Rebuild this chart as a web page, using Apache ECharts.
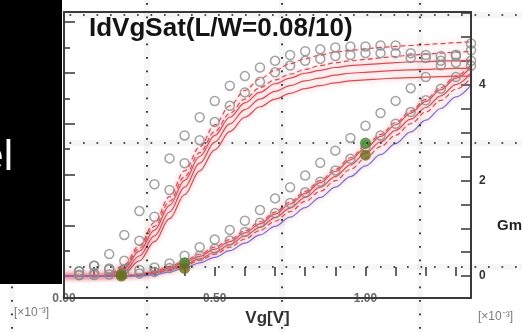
<!DOCTYPE html>
<html><head><meta charset="utf-8">
<script src="https://cdn.jsdelivr.net/npm/echarts@6/dist/echarts.min.js"></script>
<style>html,body{margin:0;padding:0;background:#fff}#c{width:522px;height:332px}</style>
</head><body><div id="c"></div>
<script>
// ---- data ----
const vg = [0,0.05,0.1,0.15,0.2,0.25,0.3,0.35,0.4,0.45,0.5,0.55,0.6,0.65,0.7,0.75,0.8,0.85,0.9,0.95,1.0,1.05,1.1,1.15,1.2,1.25,1.3,1.35];
// simulated Id (left axis)
const idSimA = [0,0,0,0,0,0.03,0.08,0.16,0.27,0.39,0.53,0.68,0.85,1.03,1.22,1.42,1.63,1.84,2.06,2.29,2.52,2.75,2.98,3.21,3.44,3.67,3.9,4.12];
const idSimB = [0,0,0,0,0,0.02,0.06,0.13,0.23,0.34,0.47,0.62,0.79,0.96,1.15,1.34,1.55,1.75,1.96,2.19,2.42,2.64,2.87,3.09,3.32,3.55,3.77,4.0];
const idSimC = [0,0,0,0,0,0.01,0.05,0.11,0.2,0.31,0.43,0.57,0.73,0.9,1.08,1.27,1.47,1.67,1.88,2.1,2.32,2.55,2.77,3.0,3.23,3.46,3.68,3.9];
const idSimD = [0,0,0,0,0.01,0.04,0.1,0.19,0.3,0.43,0.57,0.72,0.89,1.07,1.26,1.46,1.67,1.88,2.1,2.33,2.56,2.79,3.02,3.25,3.48,3.71,3.94,4.16];
const idSimBlue = [0,0,0,0,0,0,0.03,0.08,0.16,0.26,0.37,0.5,0.65,0.81,0.98,1.16,1.35,1.55,1.75,1.96,2.17,2.39,2.61,2.84,3.07,3.3,3.53,3.76];
// simulated Gm (right axis)
const gmSim1 = [0,0,0,0.02,0.16,0.52,0.96,1.48,2.0,2.5,2.94,3.32,3.62,3.84,4.02,4.14,4.24,4.3,4.36,4.4,4.42,4.44,4.46,4.48,4.48,4.5,4.5,4.52];
const gmSim2 = [0,0,0,0,0.1,0.42,0.84,1.34,1.86,2.36,2.8,3.18,3.48,3.7,3.86,3.98,4.08,4.14,4.2,4.24,4.26,4.28,4.3,4.31,4.32,4.33,4.34,4.34];
const gmSim3 = [0,0,0,0,0.06,0.32,0.72,1.2,1.7,2.2,2.64,3.02,3.32,3.54,3.7,3.82,3.92,3.98,4.04,4.08,4.1,4.12,4.14,4.15,4.16,4.17,4.18,4.18];
const gmSimDash1 = [0,0,0,0.04,0.24,0.64,1.12,1.66,2.2,2.7,3.16,3.56,3.88,4.12,4.3,4.44,4.54,4.62,4.68,4.72,4.75,4.78,4.8,4.82,4.84,4.86,4.88,4.9];
const gmSimDash2 = [0,0,0,0.02,0.2,0.58,1.04,1.56,2.08,2.58,3.02,3.4,3.7,3.94,4.1,4.22,4.32,4.4,4.46,4.5,4.53,4.56,4.59,4.62,4.64,4.66,4.68,4.7];
// measured (open circles)
const idMeasOuter = [null,0.09,0.2,0.15,0.13,0.12,0.17,0.25,0.4,0.57,0.72,0.91,1.09,1.3,1.53,1.75,1.98,2.23,2.47,2.72,2.96,3.21,3.45,3.7,3.92,4.15,4.36,4.58];
const idMeasInner = [null,0.02,0.02,0.03,0.04,0.05,0.08,0.16,0.27,0.4,0.54,0.7,0.87,1.05,1.24,1.44,1.65,1.86,2.08,2.31,2.54,2.77,3.0,3.23,3.46,3.69,3.92,4.14];
const gmMeasOuter = [null,0.1,0.22,0.46,0.86,1.36,1.92,2.46,2.94,3.32,3.66,3.98,4.18,4.36,4.5,4.62,4.7,4.74,4.78,4.8,4.8,4.82,4.82,4.66,4.62,4.6,4.6,4.72];
const gmMeasInner = [null,0.02,0.06,0.14,0.32,0.74,1.24,1.8,2.36,2.84,3.22,3.56,3.84,4.06,4.26,4.4,4.5,4.54,4.6,4.62,4.66,4.66,4.66,4.56,4.56,4.5,4.46,4.5];
// target points (filled green)
const targetVg = [0.19,0.4,1.0];
const targetUpper = [0.03,0.26,2.62];
const targetLower = [0,0.15,2.38];
// texts
const titleText = 'IdVgSat(L/W=0.08/10)';
const xName = 'Vg[V]';
const rightName = 'Gm[S]';
const unitText = '[×10⁻³]';
const boxText = 'el';

const pairs = arr => vg.map((x, i) => [x, arr[i]]).filter(p => p[1] !== null);
const FONT = '"Liberation Sans", Arial, sans-serif';

const lineRed = '#dc4a52';
function simLine(arr, axis, dashed, color) {
  return {
    type: 'line', data: pairs(arr), yAxisIndex: axis, xAxisIndex: 0,
    showSymbol: false, smooth: 0.35, smoothMonotone: 'x', clip: false, z: 3,
    lineStyle: { color: color || lineRed, width: 1.2, type: dashed ? [5, 3] : 'solid',
      shadowBlur: 5, shadowColor: 'rgba(235,110,120,0.75)' }
  };
}
function meas(arr, axis) {
  return {
    type: 'scatter', data: pairs(arr), yAxisIndex: axis, xAxisIndex: 0, clip: false, z: 4,
    symbol: 'circle', symbolSize: 9,
    itemStyle: { color: 'rgba(255,255,255,0)', borderColor: '#8c8c8c', borderWidth: 1.5 }
  };
}

const dotStyle = { stroke: '#1a1a1a', lineWidth: 1.7, lineDash: [1.7, 11.8] };
const haze = { stroke: 'rgba(0,0,0,0.035)', lineWidth: 6 };
const vLines = [12, 147, 282, 420], hLines = [15, 143, 267];
const graphics = [];
vLines.forEach(x => {
  graphics.push({ type: 'line', z: 49, silent: true, shape: { x1: x, y1: 0, x2: x, y2: 332 }, style: haze });
  graphics.push({ type: 'line', z: 50, silent: true, shape: { x1: x, y1: 3, x2: x, y2: 332 }, style: dotStyle });
});
hLines.forEach(y => {
  graphics.push({ type: 'line', z: 49, silent: true, shape: { x1: 0, y1: y, x2: 522, y2: y }, style: haze });
  graphics.push({ type: 'line', z: 50, silent: true, shape: { x1: 2, y1: y, x2: 522, y2: y }, style: dotStyle });
});
graphics.push({ type: 'rect', z: 60, silent: true, shape: { x: 64, y: 12, width: 407, height: 286 },
  style: { fill: 'none', stroke: '#3a3a3a', lineWidth: 2 } });
graphics.push({ type: 'rect', z: 200, silent: true, shape: { x: 0, y: 0, width: 62, height: 284 }, style: { fill: '#000' } });
graphics.push({ type: 'text', z: 210, silent: true, x: 13, y: 158,
  style: { text: boxText, fill: '#fff', font: '42px ' + FONT, align: 'right', verticalAlign: 'middle' } });
graphics.push({ type: 'text', z: 60, silent: true, x: 497, y: 226,
  style: { text: rightName, fill: '#222', font: 'bold 15px ' + FONT, align: 'left', verticalAlign: 'middle' } });
graphics.push({ type: 'text', z: 60, silent: true, x: 14, y: 313,
  style: { text: unitText, fill: '#7a7a7a', font: '12px ' + FONT, align: 'left', verticalAlign: 'middle' } });
graphics.push({ type: 'text', z: 60, silent: true, x: 478, y: 317,
  style: { text: unitText, fill: '#7a7a7a', font: '12px ' + FONT, align: 'left', verticalAlign: 'middle' } });

const option = {
  animation: false,
  backgroundColor: '#fff',
  textStyle: { fontFamily: FONT },
  title: { text: titleText, left: 89, top: 16, padding: 0,
    textStyle: { fontSize: 26, fontWeight: 'bold', color: '#141414', fontFamily: FONT } },
  grid: { left: 64, right: 51, top: 12, bottom: 44, containLabel: false },
  xAxis: {
    type: 'value', min: 0, max: 1.35, interval: 0.1, offset: 10,
    axisLine: { show: false },
    axisTick: { inside: true, length: 9, lineStyle: { color: '#333', width: 1.5 } },
    splitLine: { show: false },
    axisLabel: { margin: 7, color: '#6a6a6a', fontSize: 12, fontWeight: 'bold',
      formatter: v => (Math.abs(v * 2 - Math.round(v * 2)) < 1e-6 && v <= 1.0001) ? v.toFixed(2) : '' },
    name: xName, nameLocation: 'middle', nameGap: 18,
    nameTextStyle: { fontSize: 17, fontWeight: 'bold', color: '#333' }
  },
  yAxis: [
    { type: 'value', min: 0, max: 5.2, interval: 1, position: 'left',
      axisLine: { show: false },
      axisTick: { inside: true, length: 11, lineStyle: { color: '#333', width: 1.5 } },
      minorTick: { show: true, splitNumber: 2, length: 6, lineStyle: { color: '#333', width: 1.5 } },
      splitLine: { show: false },
      axisLabel: { margin: 4, color: '#555', fontSize: 12, fontWeight: 'bold' } },
    { type: 'value', min: 0, max: 5.52, interval: 0.5, position: 'right',
      axisLine: { show: false },
      axisTick: { inside: true, length: 10, lineStyle: { color: '#333', width: 1.5 } },
      splitLine: { show: false },
      axisLabel: { margin: 8, color: '#333', fontSize: 12, fontWeight: 'bold',
        formatter: v => (Math.abs(v / 2 - Math.round(v / 2)) < 1e-6 && v <= 4.0001) ? String(Math.round(v)) : '' } }
  ],
  graphic: { elements: graphics },
  series: [
    simLine(gmSimDash1, 1, true), simLine(gmSimDash2, 1, true),
    simLine(gmSim1, 1, false), simLine(gmSim2, 1, false), simLine(gmSim3, 1, false),
    simLine(idSimD, 0, true), simLine(idSimA, 0, false), simLine(idSimB, 0, false),
    simLine(idSimC, 0, true), simLine(idSimBlue, 0, false, '#7373d6'),
    meas(idMeasOuter, 0), meas(idMeasInner, 0), meas(gmMeasOuter, 1), meas(gmMeasInner, 1),
    { type: 'scatter', yAxisIndex: 0, z: 5, clip: false, symbolSize: 11,
      data: targetVg.map((x, i) => [x, targetUpper[i]]), itemStyle: { color: '#3f8a2c' } },
    { type: 'scatter', yAxisIndex: 0, z: 5, clip: false, symbolSize: 11,
      data: targetVg.map((x, i) => [x, targetLower[i]]), itemStyle: { color: '#6f6d1c' } }
  ]
};
echarts.init(document.getElementById('c'), null, { renderer: 'canvas' }).setOption(option);
</script></body></html>
